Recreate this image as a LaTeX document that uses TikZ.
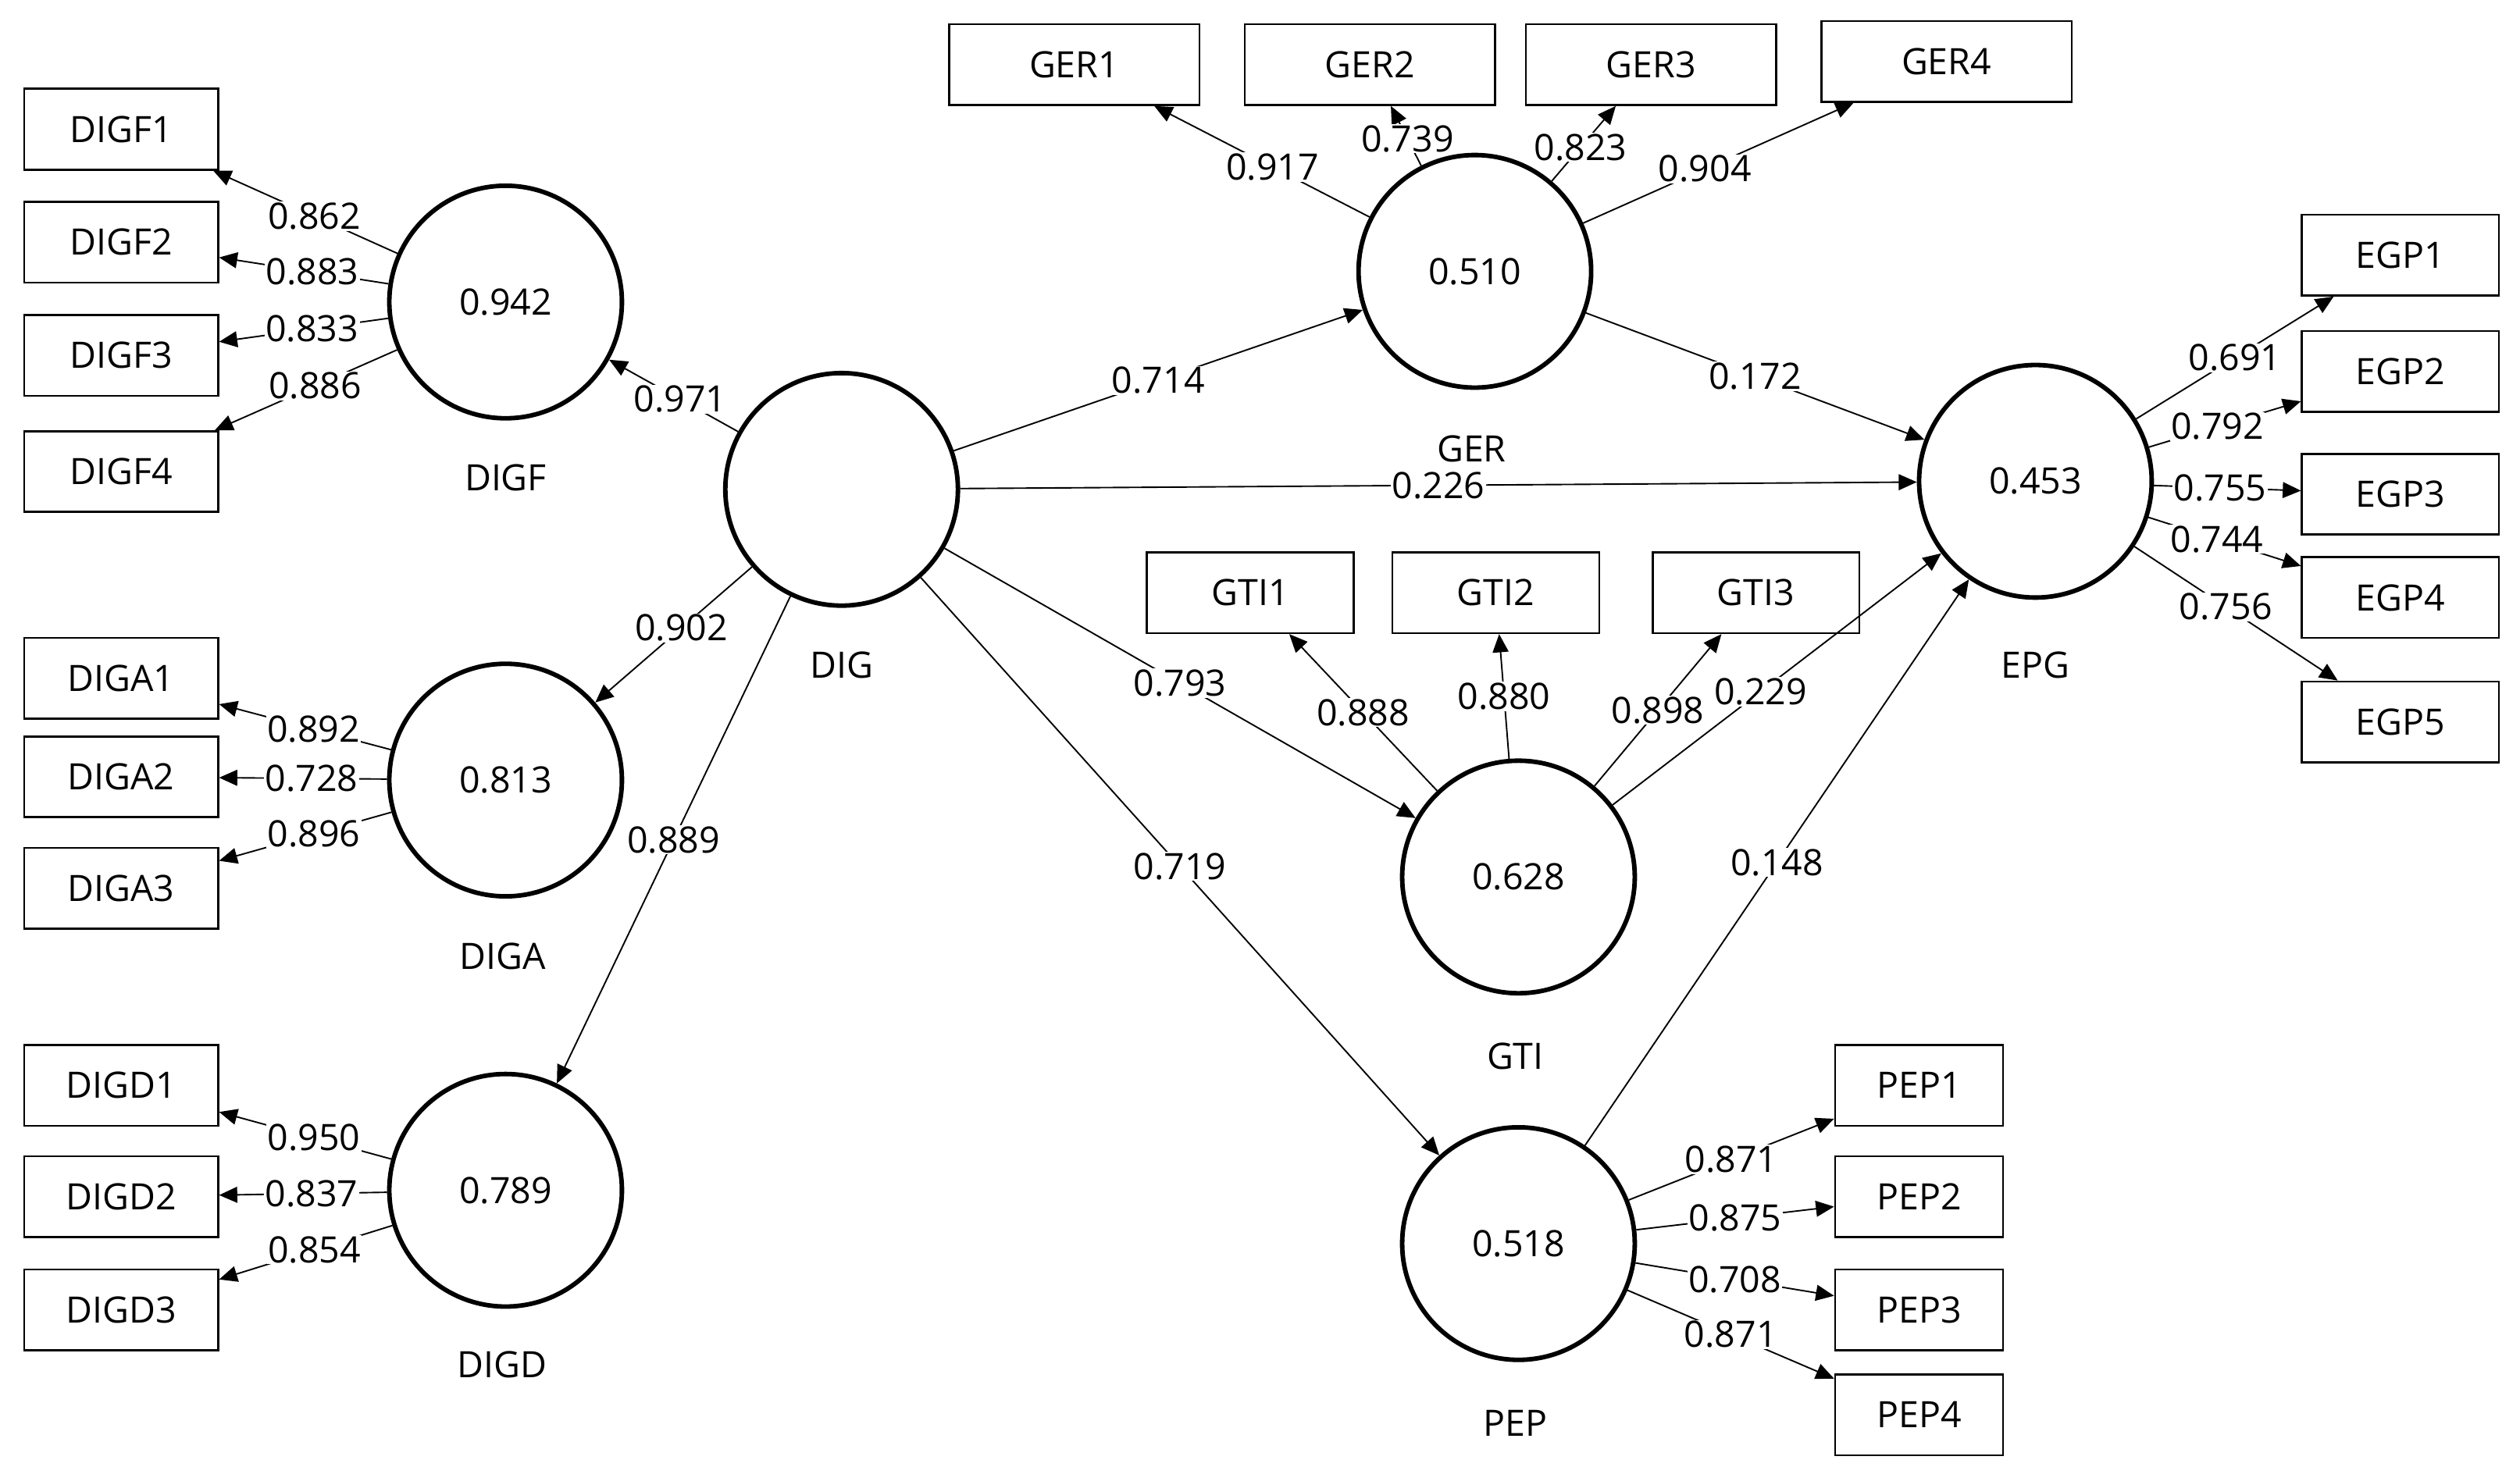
\documentclass[tikz,border=0pt]{standalone}
\usepackage{fontspec}
\setmainfont{Open Sans}
\usetikzlibrary{arrows.meta}
\begin{document}
\begin{tikzpicture}[x=0.05cm,y=-0.05cm,
 lv/.style={circle,draw,line width=4pt,minimum size=7.2cm,inner sep=0pt},
 box/.style={draw,line width=1.8pt,minimum height=2.5cm,minimum width=6cm,inner sep=0pt},
 ar/.style={line width=1.3pt,-{Triangle[length=16pt,width=14pt]}},
 lb/.style={fill=white,inner sep=1pt},
 every node/.append style={font=\fontsize{32}{38}\selectfont}]
\useasboundingbox (0,0) rectangle (1560,908);
% latent variables
\node[lv] (DIGF) at (313,187) {0.942};
\node[lv] (DIGA) at (313,483) {0.813};
\node[lv] (DIGD) at (313,737) {0.789};
\node[lv] (DIG) at (521,303) {};
\node[lv] (GER) at (913,168) {0.510};
\node[lv] (EPG) at (1260,298) {0.453};
\node[lv] (GTI) at (940,543) {0.628};
\node[lv] (PEP) at (940,770) {0.518};
\node (lDIGF) at (313,296) {DIGF};
\node (lDIGA) at (311,592) {DIGA};
\node (lDIGD) at (311,845) {DIGD};
\node (lDIG) at (521,412) {DIG};
\node (lGER) at (911,278) {GER};
\node (lEPG) at (1260,412) {EPG};
\node (lGTI) at (938,654) {GTI};
\node (lPEP) at (938,881) {PEP};
% boxes
\foreach \n/\y in {DIGF1/80,DIGF2/150,DIGF3/220,DIGF4/292,DIGA1/420,DIGA2/481,DIGA3/550,DIGD1/672,DIGD2/741,DIGD3/811}
  \node[box] (\n) at (75,\y) {\n};
\foreach \n/\x/\y in {GER1/665/40,GER2/848/40,GER3/1022/40,GER4/1205/38}
  \node[box,minimum width=7.75cm] (\n) at (\x,\y) {\n};
\foreach \n/\y in {EGP1/158,EGP2/230,EGP3/306,EGP4/370,EGP5/447}
  \node[box,minimum width=6.1cm] (\n) at (1486,\y) {\n};
\foreach \n/\x in {GTI1/774,GTI2/926,GTI3/1087}
  \node[box,minimum width=6.4cm] (\n) at (\x,367) {\n};
\foreach \n/\y in {PEP1/672,PEP2/741,PEP3/811,PEP4/876}
  \node[box,minimum width=5.2cm] (\n) at (1188,\y) {\n};
% indicator loadings
\draw[ar] (DIGF) -- node[lb,pos=0.45]{0.862} (DIGF1);
\draw[ar] (DIGF) -- node[lb,pos=0.45]{0.883} (DIGF2);
\draw[ar] (DIGF) -- node[lb,pos=0.45]{0.833} (DIGF3);
\draw[ar] (DIGF) -- node[lb,pos=0.45]{0.886} (DIGF4);
\draw[ar] (DIGA) -- node[lb,pos=0.45]{0.892} (DIGA1);
\draw[ar] (DIGA) -- node[lb,pos=0.45]{0.728} (DIGA2);
\draw[ar] (DIGA) -- node[lb,pos=0.45]{0.896} (DIGA3);
\draw[ar] (DIGD) -- node[lb,pos=0.45]{0.950} (DIGD1);
\draw[ar] (DIGD) -- node[lb,pos=0.45]{0.837} (DIGD2);
\draw[ar] (DIGD) -- node[lb,pos=0.45]{0.854} (DIGD3);
\draw[ar] (GER) -- node[lb,pos=0.45]{0.917} (GER1);
\draw[ar] (GER) -- node[lb,pos=0.45]{0.739} (GER2);
\draw[ar] (GER) -- node[lb,pos=0.45]{0.823} (GER3);
\draw[ar] (GER) -- node[lb,pos=0.45]{0.904} (GER4);
\draw[ar] (EPG) -- node[lb,pos=0.5]{0.691} (EGP1);
\draw[ar] (EPG) -- node[lb,pos=0.45]{0.792} (EGP2);
\draw[ar] (EPG) -- node[lb,pos=0.45]{0.755} (EGP3);
\draw[ar] (EPG) -- node[lb,pos=0.45]{0.744} (EGP4);
\draw[ar] (EPG) -- node[lb,pos=0.45]{0.756} (EGP5);
\draw[ar] (GTI) -- node[lb,pos=0.5]{0.888} (GTI1);
\draw[ar] (GTI) -- node[lb,pos=0.5]{0.880} (GTI2);
\draw[ar] (GTI) -- node[lb,pos=0.5]{0.898} (GTI3);
\draw[ar] (PEP) -- node[lb,pos=0.5]{0.871} (PEP1);
\draw[ar] (PEP) -- node[lb,pos=0.5]{0.875} (PEP2);
\draw[ar] (PEP) -- node[lb,pos=0.5]{0.708} (PEP3);
\draw[ar] (PEP) -- node[lb,pos=0.5]{0.871} (PEP4);
% structural paths
\draw[ar] (DIG) -- node[lb,pos=0.45]{0.971} (DIGF);
\draw[ar] (DIG) -- node[lb,pos=0.45]{0.902} (DIGA);
\draw[ar] (DIG) -- node[lb,pos=0.5]{0.889} (DIGD);
\draw[ar] (DIG) -- node[lb,pos=0.5]{0.714} (GER);
\draw[ar] (DIG) -- node[lb,pos=0.5]{0.226} (EPG);
\draw[ar] (DIG) -- node[lb,pos=0.5]{0.793} (GTI);
\draw[ar] (DIG) -- node[lb,pos=0.5]{0.719} (PEP);
\draw[ar] (GER) -- node[lb,pos=0.5]{0.172} (EPG);
\draw[ar] (GTI) -- node[lb,pos=0.45]{0.229} (EPG);
\draw[ar] (PEP) -- node[lb,pos=0.5]{0.148} (EPG);
\end{tikzpicture}
\end{document}
